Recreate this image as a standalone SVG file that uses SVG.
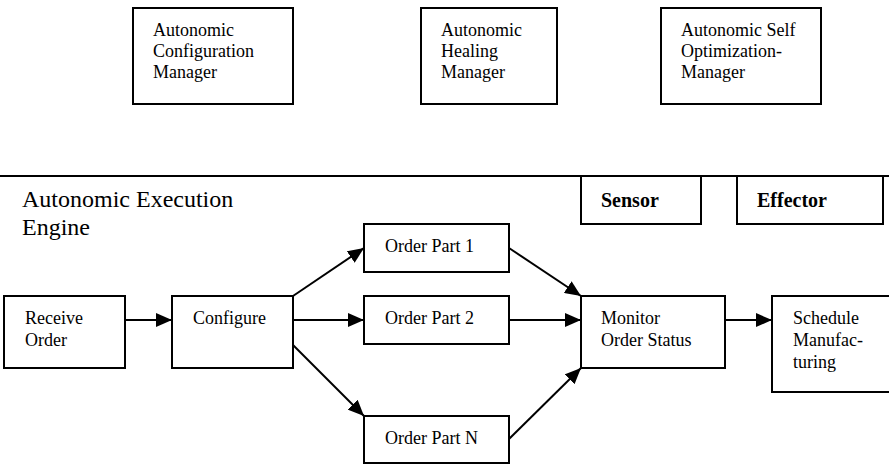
<svg xmlns="http://www.w3.org/2000/svg" width="889" height="464" viewBox="0 0 889 464">
  <style>
    .box { fill: #fff; stroke: #000; stroke-width: 2; }
    .t { font-size: 18px; }
    .tb { font-size: 20px; font-weight: bold; }
    .big { font-size: 24px; }
    .edge { stroke: #000; stroke-width: 2; fill: none; marker-end: url(#arrow); }
  </style>
  <defs>
    <marker id="arrow" markerUnits="userSpaceOnUse" markerWidth="16" markerHeight="14" refX="16" refY="7" orient="auto">
      <path d="M0,0 L16,7 L0,14 z" fill="#000"/>
    </marker>
  </defs>

  <rect width="889" height="464" fill="#fff"/>

  <g font-family="Liberation Serif, serif" fill="#000">
  <!-- managers -->
  <g id="config-manager">
    <rect class="box" x="133" y="8" width="160" height="96"/>
    <text class="t" x="153" y="36">Autonomic</text>
    <text class="t" x="153" y="57">Configuration</text>
    <text class="t" x="153" y="78">Manager</text>
  </g>
  <g id="healing-manager">
    <rect class="box" x="421" y="8" width="136" height="96"/>
    <text class="t" x="441" y="36">Autonomic</text>
    <text class="t" x="441" y="57">Healing</text>
    <text class="t" x="441" y="78">Manager</text>
  </g>
  <g id="optimization-manager">
    <rect class="box" x="661" y="8" width="160" height="96"/>
    <text class="t" x="681" y="36">Autonomic Self</text>
    <text class="t" x="681" y="57">Optimization-</text>
    <text class="t" x="681" y="78">Manager</text>
  </g>

  <!-- execution engine area -->
  <g id="execution-engine">
    <line x1="0" y1="176" x2="889" y2="176" stroke="#000" stroke-width="2"/>
    <text class="big" x="22" y="207">Autonomic Execution</text>
    <text class="big" x="22" y="235">Engine</text>
  </g>
  <g id="sensor">
    <rect class="box" x="581" y="176" width="120" height="48"/>
    <text class="tb" x="601" y="207">Sensor</text>
  </g>
  <g id="effector">
    <rect class="box" x="737" y="176" width="146" height="48"/>
    <text class="tb" x="757" y="207">Effector</text>
  </g>

  <!-- process nodes -->
  <g id="receive-order">
    <rect class="box" x="4" y="296" width="121" height="72"/>
    <text class="t" x="25" y="324">Receive</text>
    <text class="t" x="25" y="346">Order</text>
  </g>
  <g id="configure">
    <rect class="box" x="172" y="296" width="121" height="72"/>
    <text class="t" x="193" y="324">Configure</text>
  </g>
  <g id="order-part-1">
    <rect class="box" x="364" y="224" width="145" height="48"/>
    <text class="t" x="385" y="252">Order Part 1</text>
  </g>
  <g id="order-part-2">
    <rect class="box" x="364" y="296" width="145" height="48"/>
    <text class="t" x="385" y="324">Order Part 2</text>
  </g>
  <g id="order-part-n">
    <rect class="box" x="364" y="416" width="145" height="47"/>
    <text class="t" x="385" y="444">Order Part N</text>
  </g>
  <g id="monitor-order-status">
    <rect class="box" x="581" y="296" width="144" height="72"/>
    <text class="t" x="601" y="324">Monitor</text>
    <text class="t" x="601" y="346">Order Status</text>
  </g>
  <g id="schedule-manufacturing">
    <rect class="box" x="772" y="296" width="118" height="96"/>
    <text class="t" x="793" y="324">Schedule</text>
    <text class="t" x="793" y="346">Manufac-</text>
    <text class="t" x="793" y="368">turing</text>
  </g>
  </g>

  <!-- connectors -->
  <g id="connectors">
    <line class="edge" x1="125" y1="320" x2="172" y2="320"/>
    <line class="edge" x1="293" y1="296" x2="364" y2="248"/>
    <line class="edge" x1="293" y1="320" x2="364" y2="320"/>
    <line class="edge" x1="293" y1="345" x2="364" y2="416"/>
    <line class="edge" x1="509" y1="248" x2="581" y2="296"/>
    <line class="edge" x1="509" y1="320" x2="581" y2="320"/>
    <line class="edge" x1="509" y1="439" x2="581" y2="368"/>
    <line class="edge" x1="725" y1="320" x2="772" y2="320"/>
  </g>
</svg>
